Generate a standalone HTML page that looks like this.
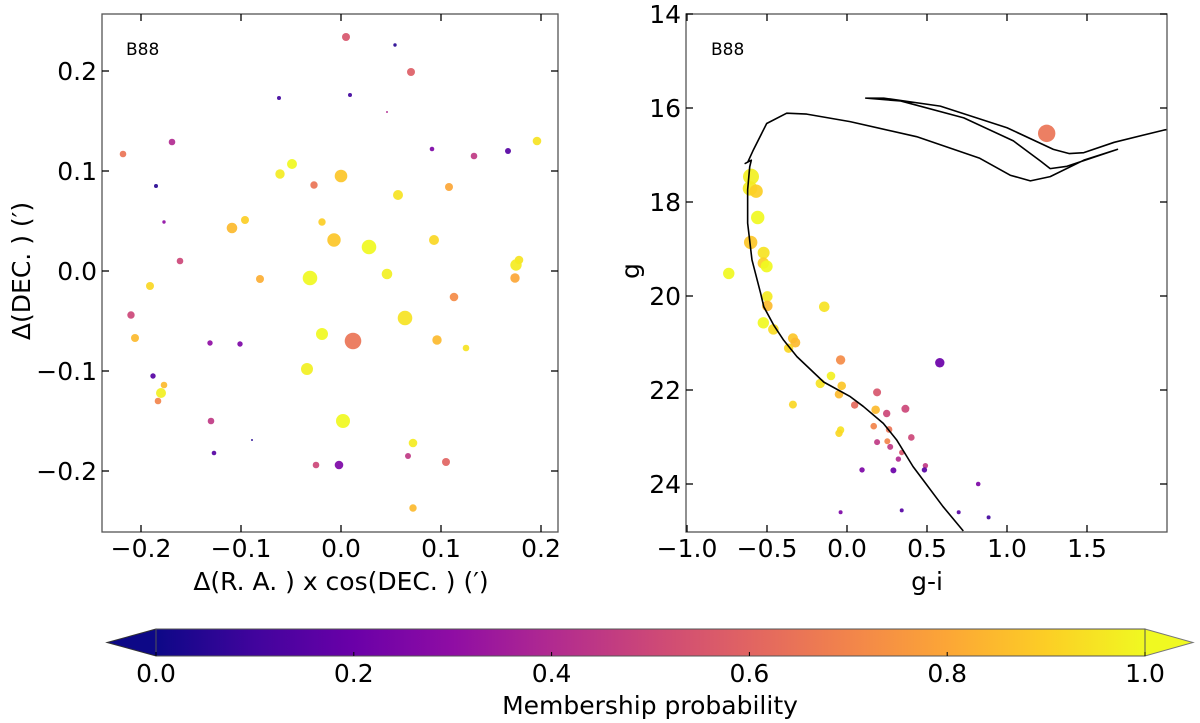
<!DOCTYPE html>
<html><head><meta charset="utf-8"><style>
html,body{margin:0;padding:0;background:#fff;}
svg{display:block;font-family:"DejaVu Sans","Liberation Sans",sans-serif;}
</style></head><body>
<svg id="fig" width="1200" height="723" viewBox="0 0 1200 723" xmlns="http://www.w3.org/2000/svg">
<defs>
<linearGradient id="plasma" x1="0" x2="1" y1="0" y2="0">
<stop offset="0" stop-color="#0d0887"/><stop offset="0.1" stop-color="#41049d"/><stop offset="0.2" stop-color="#6a00a8"/><stop offset="0.3" stop-color="#8f0da4"/><stop offset="0.4" stop-color="#b12a90"/><stop offset="0.5" stop-color="#cc4778"/><stop offset="0.6" stop-color="#e16462"/><stop offset="0.7" stop-color="#f2844b"/><stop offset="0.8" stop-color="#fca636"/><stop offset="0.9" stop-color="#fcce25"/><stop offset="1" stop-color="#f0f921"/>
</linearGradient>
<clipPath id="clipL"><rect x="102" y="14" width="456" height="518"/></clipPath>
<clipPath id="clipR"><rect x="686" y="14" width="481" height="518"/></clipPath>
</defs>
<g id="left"></g>
<g id="right"></g>
<g id="cbar"></g>
</svg>
<script>
// ---- spatial data ----
const raX = [0.005,0.054,0.070,-0.062,0.009,0.046,-0.218,-0.169,0.091,0.133,0.167,0.196,-0.185,-0.049,-0.061,-0.027,0.0,0.057,0.108,-0.177,-0.096,-0.109,-0.019,-0.007,0.028,0.093,-0.161,0.178,0.175,0.174,-0.031,0.046,-0.081,-0.191,0.113,-0.210,0.064,-0.206,-0.019,0.012,-0.131,-0.101,0.096,0.125,-0.034,-0.188,-0.177,-0.18,-0.183,-0.130,0.002,-0.089,-0.127,0.072,-0.025,-0.002,0.067,0.105,0.072];
const decY = [0.234,0.226,0.199,0.173,0.176,0.159,0.117,0.129,0.122,0.115,0.12,0.130,0.085,0.107,0.097,0.086,0.095,0.076,0.084,0.049,0.051,0.043,0.049,0.031,0.024,0.031,0.010,0.011,0.006,-0.007,-0.007,-0.003,-0.008,-0.015,-0.026,-0.044,-0.047,-0.067,-0.063,-0.070,-0.072,-0.073,-0.069,-0.077,-0.098,-0.105,-0.114,-0.122,-0.130,-0.150,-0.150,-0.169,-0.182,-0.172,-0.194,-0.194,-0.185,-0.191,-0.237];
const spSize = [4,1.7,4,2,2,1,3.3,3.3,2.3,3.3,3,4.3,2,5,4.7,3.7,6.3,5,4,1.7,4,5.3,3.7,6.7,7.3,5,3.3,4.3,5.7,4.7,7.3,5.3,4,4,4.3,3.7,7.3,4,6,8.3,2.7,2.7,4.7,3.3,6,2.7,3.3,5,3.3,3.3,7,1,2.3,4.3,3.3,4.3,3,4,3.7];
const spProb = [0.55,0.05,0.58,0.1,0.1,0.4,0.65,0.4,0.25,0.45,0.15,0.95,0.05,1.0,0.97,0.65,0.88,0.95,0.8,0.3,0.9,0.85,0.9,0.88,1.0,0.92,0.5,0.95,0.97,0.8,1.0,0.98,0.82,0.92,0.72,0.5,0.95,0.85,1.0,0.65,0.3,0.25,0.85,0.95,0.98,0.15,0.85,0.98,0.7,0.45,1.0,0.05,0.15,0.97,0.5,0.25,0.45,0.6,0.85];
const spXTicks = [-0.2,-0.1,0.0,0.1,0.2];
const spYTicks = [-0.2,-0.1,0.0,0.1,0.2];
// ---- CMD data ----
const cmdGI = [1.248,-0.6,-0.606,-0.568,-0.558,-0.602,-0.521,-0.523,-0.502,-0.739,-0.498,-0.142,-0.498,-0.523,-0.46,-0.338,-0.323,-0.365,-0.04,0.58,-0.1,-0.167,-0.033,-0.05,0.188,-0.338,0.048,0.179,0.365,0.248,-0.04,-0.05,0.167,0.263,0.402,0.188,0.252,0.27,0.342,0.321,0.49,0.094,0.29,0.484,0.82,-0.04,0.342,0.698,0.885];
const cmdG = [16.54,17.46,17.71,17.77,18.33,18.86,19.08,19.30,19.37,19.52,20.01,20.23,20.21,20.57,20.71,20.90,20.99,21.11,21.36,21.42,21.70,21.86,21.91,22.09,22.05,22.31,22.32,22.42,22.40,22.50,22.85,22.92,22.77,22.84,23.01,23.11,23.09,23.21,23.33,23.47,23.61,23.70,23.71,23.70,24.00,24.60,24.56,24.60,24.71];
const cmdSize = [8.7,8,7.3,6.7,6.7,6.7,6,5.7,6,5.7,5.3,5.3,5.3,5.7,5.3,5,5,4.7,4.7,4.7,4.3,4.7,4.3,4.3,4,4,3.7,4.3,4,3.7,3.7,3.7,3.3,3.3,3.3,3,3,3,2.7,2.7,2.7,2.7,3,2.7,2.3,2,2,2,2];
const cmdProb = [0.65,0.98,0.97,0.9,1.0,0.88,0.95,0.9,1.0,1.0,0.97,0.95,0.85,1.0,0.93,0.88,0.85,0.92,0.72,0.2,0.98,0.95,0.88,0.85,0.55,0.92,0.62,0.85,0.5,0.5,0.95,0.92,0.7,0.65,0.5,0.45,0.7,0.45,0.55,0.4,0.45,0.25,0.2,0.15,0.25,0.25,0.15,0.15,0.1];
const isoGI = [0.727,0.60,0.477,0.413,0.31,0.227,0.102,0.02,-0.146,-0.313,-0.396,-0.458,-0.52,-0.54,-0.594,-0.621,-0.621,-0.608,-0.598,-0.636,-0.62,-0.585,-0.502,-0.377,-0.252,0.019,0.435,0.83,1.02,1.146,1.27,1.48,1.69,1.375,1.27,1.21,1.04,0.73,0.335,0.117,0.23,0.583,1.0,1.29,1.39,1.48,1.67,1.98,2.1];
const isoG = [25.0,24.48,23.92,23.63,23.06,22.71,22.35,22.14,21.83,21.29,20.94,20.62,20.23,19.94,19.23,18.45,17.74,17.25,17.11,17.18,17.15,16.89,16.33,16.11,16.13,16.29,16.61,17.07,17.43,17.55,17.46,17.11,16.88,17.24,17.29,17.13,16.70,16.21,15.85,15.79,15.79,15.96,16.42,16.88,16.97,16.95,16.73,16.47,16.40];
const cmdXTicks = [-1.0,-0.5,0.0,0.5,1.0,1.5];
const cmdYTicks = [14,16,18,20,22,24];
const cbTicks = [0.0,0.2,0.4,0.6,0.8,1.0];

const NS='http://www.w3.org/2000/svg';
function mk(tag, attrs, parent){const e=document.createElementNS(NS,tag);for(const k in attrs)e.setAttribute(k,attrs[k]);parent.appendChild(e);return e;}
const stops=[[0,[13,8,135]],[0.1,[65,4,157]],[0.2,[106,0,168]],[0.3,[143,13,164]],[0.4,[177,42,144]],[0.5,[204,71,120]],[0.6,[225,100,98]],[0.7,[242,132,75]],[0.8,[252,166,54]],[0.9,[252,206,37]],[1,[240,249,33]]];
function plasma(t){t=Math.max(0,Math.min(1,t));for(let i=1;i<stops.length;i++){if(t<=stops[i][0]){const a=stops[i-1],b=stops[i];const f=(t-a[0])/(b[0]-a[0]);const c=a[1].map((v,j)=>Math.round(v+(b[1][j]-v)*f));return `rgb(${c.join(',')})`;}}return 'rgb(240,249,33)';}
const TF=25;

// ---- left panel ----
const L=document.getElementById('left');
const lx=v=>341+v*1000, ly=v=>271-v*1000;
const lpts=mk('g',{'clip-path':'url(#clipL)'},L);
for(let i=0;i<raX.length;i++){
  const c=mk('circle',{cx:lx(raX[i]),cy:ly(decY[i]),r:spSize[i],fill:plasma(spProb[i]),'fill-opacity':0.92},lpts);
  
  
}
const lf=mk('rect',{x:102,y:14,width:456,height:518,fill:'none',stroke:'#555','stroke-width':1.3},L);

spXTicks.forEach(v=>{const x=lx(v);
  mk('line',{x1:x,x2:x,y1:532,y2:525,stroke:'#000','stroke-width':1.3},L);
  mk('line',{x1:x,x2:x,y1:14,y2:21,stroke:'#000','stroke-width':1.3},L);
  const t=mk('text',{x:x,y:557,'font-size':TF,'text-anchor':'middle'},L);t.textContent=v.toFixed(1).replace('-','\u2212');
  });
spYTicks.forEach(v=>{const y=ly(v);
  mk('line',{x1:102,x2:109,y1:y,y2:y,stroke:'#000','stroke-width':1.3},L);
  mk('line',{x1:558,x2:551,y1:y,y2:y,stroke:'#000','stroke-width':1.3},L);
  const t=mk('text',{x:97,y:y+9,'font-size':TF,'text-anchor':'end'},L);t.textContent=v.toFixed(1).replace('-','\u2212');
  });
let t=mk('text',{x:126,y:55,'font-size':17},L);t.textContent='B88';
t=mk('text',{x:341,y:590,'font-size':TF,'text-anchor':'middle'},L);t.textContent='\u0394(R. A. ) x cos(DEC. ) (\u2032)';
t=mk('text',{x:0,y:0,'font-size':TF,'text-anchor':'middle',transform:'translate(30,271) rotate(-90)'},L);t.textContent='\u0394(DEC. ) (\u2032)';

// ---- right panel ----
const R=document.getElementById('right');
const rx=v=>847+v*160, ry=v=>14+(v-14)*47;
const rp=mk('g',{'clip-path':'url(#clipR)'},R);
for(let i=0;i<cmdGI.length;i++){
  const c=mk('circle',{cx:rx(cmdGI[i]),cy:ry(cmdG[i]),r:cmdSize[i],fill:plasma(cmdProb[i]),'fill-opacity':0.92},rp);
  
  
}
const iso=mk('polyline',{points:isoGI.map((v,i)=>rx(v)+','+ry(isoG[i])).join(' '),fill:'none',stroke:'#000','stroke-width':1.6,'stroke-linejoin':'round'},rp);

const rf=mk('rect',{x:686,y:14,width:481,height:518,fill:'none',stroke:'#555','stroke-width':1.3},R);

cmdXTicks.forEach(v=>{const x=rx(v);
  mk('line',{x1:x,x2:x,y1:532,y2:525,stroke:'#000','stroke-width':1.3},R);
  mk('line',{x1:x,x2:x,y1:14,y2:21,stroke:'#000','stroke-width':1.3},R);
  const t=mk('text',{x:x,y:557,'font-size':TF,'text-anchor':'middle'},R);t.textContent=v.toFixed(1).replace('-','\u2212');
  });
cmdYTicks.forEach(v=>{const y=ry(v);
  mk('line',{x1:686,x2:693,y1:y,y2:y,stroke:'#000','stroke-width':1.3},R);
  mk('line',{x1:1167,x2:1160,y1:y,y2:y,stroke:'#000','stroke-width':1.3},R);
  const t=mk('text',{x:681,y:y+9,'font-size':TF,'text-anchor':'end'},R);t.textContent=String(v);
  });
t=mk('text',{x:711,y:55,'font-size':17},R);t.textContent='B88';
t=mk('text',{x:927,y:590,'font-size':TF,'text-anchor':'middle'},R);t.textContent='g-i';
t=mk('text',{x:0,y:0,'font-size':TF,'text-anchor':'middle',transform:'translate(639,271) rotate(-90)'},R);t.textContent='g';

// ---- colorbar ----
const C=document.getElementById('cbar');
const cx=v=>156+v*989;
const lt=mk('polygon',{points:'156,629 107,642.5 156,656',fill:'#0d0887',stroke:'#333','stroke-width':1},C);

const rt=mk('polygon',{points:'1145,629 1193,642.5 1145,656',fill:'#f0f921',stroke:'#777','stroke-width':1},C);

const cr=mk('rect',{x:156,y:629,width:989,height:27,fill:'url(#plasma)',stroke:'#555','stroke-width':1},C);

cbTicks.forEach(v=>{const x=cx(v);
  mk('line',{x1:x,x2:x,y1:656,y2:652,stroke:'#000','stroke-width':1},C);
  const t=mk('text',{x:x,y:682,'font-size':TF,'text-anchor':'middle'},C);t.textContent=v.toFixed(1);
  });
t=mk('text',{x:650,y:714,'font-size':TF,'text-anchor':'middle'},C);t.textContent='Membership probability';
</script>
</body></html>
